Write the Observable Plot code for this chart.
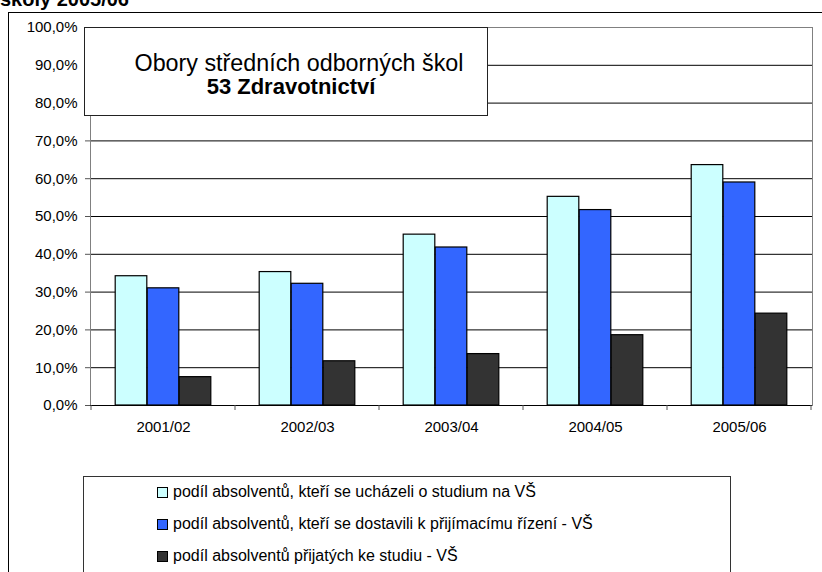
<!DOCTYPE html>
<html>
<head>
<meta charset="utf-8">
<script src="https://cdn.jsdelivr.net/npm/d3@7"></script>
<script src="https://cdn.jsdelivr.net/npm/@observablehq/plot@0.6"></script>
<style>
  body { margin: 0; background: #fff; }
  #wrap { position: relative; width: 822px; height: 572px; overflow: hidden; background: #fff; font-family: "Liberation Sans", Arial, sans-serif; color: #000; }
  #toptitle { position: absolute; left: 0; top: -11px; font-weight: bold; font-size: 20px; line-height: 20px; white-space: nowrap; }
  #outer { position: absolute; left: 8px; top: 12px; width: 900px; height: 700px; border: 1px solid #000; box-sizing: border-box; }
  #chart { position: absolute; left: 0; top: 0; }
  #titlebox { position: absolute; left: 84px; top: 27px; width: 404px; height: 89px; box-sizing: border-box; border: 1.5px solid #222; background: #fff; text-align: center; padding-top: 23px; }
  #titlebox .l1 { font-size: 23.3px; line-height: 24px; position: relative; left: 13px; }
  #titlebox .l2 { font-size: 22px; line-height: 24px; font-weight: bold; position: relative; left: 5px; }
  #legend { position: absolute; left: 83px; top: 476px; width: 648px; height: 200px; box-sizing: border-box; border: 1px solid #333; background: #fff; }
  .row { position: absolute; left: 73px; height: 20px; line-height: 20px; font-size: 16px; white-space: nowrap; }
  .sw { display: inline-block; width: 11px; height: 11px; box-sizing: border-box; border: 1px solid #000; vertical-align: -1px; margin-right: 5px; }
</style>
</head>
<body>
<div id="wrap">
  <div id="toptitle">školy 2005/06</div>
  <div id="chart"></div>
  <div id="outer"></div>
  <div id="titlebox"><div class="l1">Obory středních odborných škol</div><div class="l2">53 Zdravotnictví</div></div>
  <div id="legend"></div>
</div>
<script>
// ---- data ----
const years = ["2001/02", "2002/03", "2003/04", "2004/05", "2005/06"];
const applied = [0.342, 0.353, 0.452, 0.552, 0.636];   // podíl absolventů, kteří se ucházeli o studium na VŠ
const attended = [0.310, 0.322, 0.418, 0.517, 0.590];  // ... dostavili k přijímacímu řízení
const admitted = [0.075, 0.117, 0.136, 0.186, 0.243];  // ... přijatých ke studiu
const seriesNames = [
  "podíl absolventů, kteří se ucházeli o studium na VŠ",
  "podíl absolventů, kteří se dostavili k přijímacímu řízení - VŠ",
  "podíl absolventů přijatých ke studiu - VŠ"
];
const colors = ["#CCFFFF", "#3366FF", "#333333"];
const yTicks = [0, 0.1, 0.2, 0.3, 0.4, 0.5, 0.6, 0.7, 0.8, 0.9, 1.0];

// ---- layout ----
const W = 822, H = 440, mL = 90, mR = 10, mT = 27, mB = 35;
const bandW = (W - mL - mR) / years.length;
const barW = 32;
const start = (bandW - 3 * barW) / 2;

const seriesValues = [applied, attended, admitted];
const tables = seriesValues.map(vals => years.map((yr, i) => ({year: yr, value: vals[i]})));

const fmt = d => (d * 100).toFixed(1).replace(".", ",") + "%";

const barMarks = tables.map((t, k) => Plot.barY(t, {
  x: "year", y: "value",
  fill: colors[k], stroke: "#000", strokeWidth: 1.2,
  insetLeft: start + k * barW,
  insetRight: bandW - start - (k + 1) * barW
}));

function boundaryTicks(index, scales, values, dims) {
  const ns = "http://www.w3.org/2000/svg";
  const g = document.createElementNS(ns, "g");
  const x = scales.x;
  let bounds;
  if (x && typeof x.bandwidth === "function") {
    bounds = years.map(y => x(y));
    bounds.push(x(years[years.length - 1]) + x.bandwidth());
  } else {
    const step = (dims.width - dims.marginLeft - dims.marginRight) / years.length;
    bounds = d3.range(years.length + 1).map(i => dims.marginLeft + i * step);
  }
  const y0 = dims.height - dims.marginBottom;
  for (const bx of bounds) {
    const l = document.createElementNS(ns, "line");
    l.setAttribute("x1", bx); l.setAttribute("x2", bx);
    l.setAttribute("y1", y0); l.setAttribute("y2", y0 + 5);
    l.setAttribute("stroke", "#555");
    g.appendChild(l);
  }
  return g;
}

const chart = Plot.plot({
  width: W, height: H,
  marginLeft: mL, marginRight: mR, marginTop: mT, marginBottom: mB,
  style: {fontFamily: "'Liberation Sans', Arial, sans-serif", fontSize: "15px", color: "#000", background: "transparent", overflow: "visible"},
  x: {domain: years, padding: 0, label: null},
  y: {domain: [0, 1], label: null},
  marks: [
    Plot.ruleY(yTicks.slice(1, -1), {stroke: "#000", strokeWidth: 1}),
    Plot.frame({stroke: "#808080"}),
    ...barMarks,
    Plot.ruleY([0], {stroke: "#000"}),
    Plot.axisY({ticks: yTicks, tickFormat: fmt, tickSize: 5, tickPadding: 8, stroke: "#555", label: null}),
    Plot.axisX({tickSize: 0, tickPadding: 16, label: null}),
    boundaryTicks
  ]
});
document.getElementById("chart").appendChild(chart);

// ---- legend ----
const legend = document.getElementById("legend");
const rowTops = [5, 37, 69];
seriesNames.forEach((name, k) => {
  const r = document.createElement("div");
  r.className = "row";
  r.style.top = rowTops[k] + "px";
  const sw = document.createElement("span");
  sw.className = "sw";
  sw.style.background = colors[k];
  r.appendChild(sw);
  r.appendChild(document.createTextNode(name));
  legend.appendChild(r);
});
</script>
</body>
</html>
